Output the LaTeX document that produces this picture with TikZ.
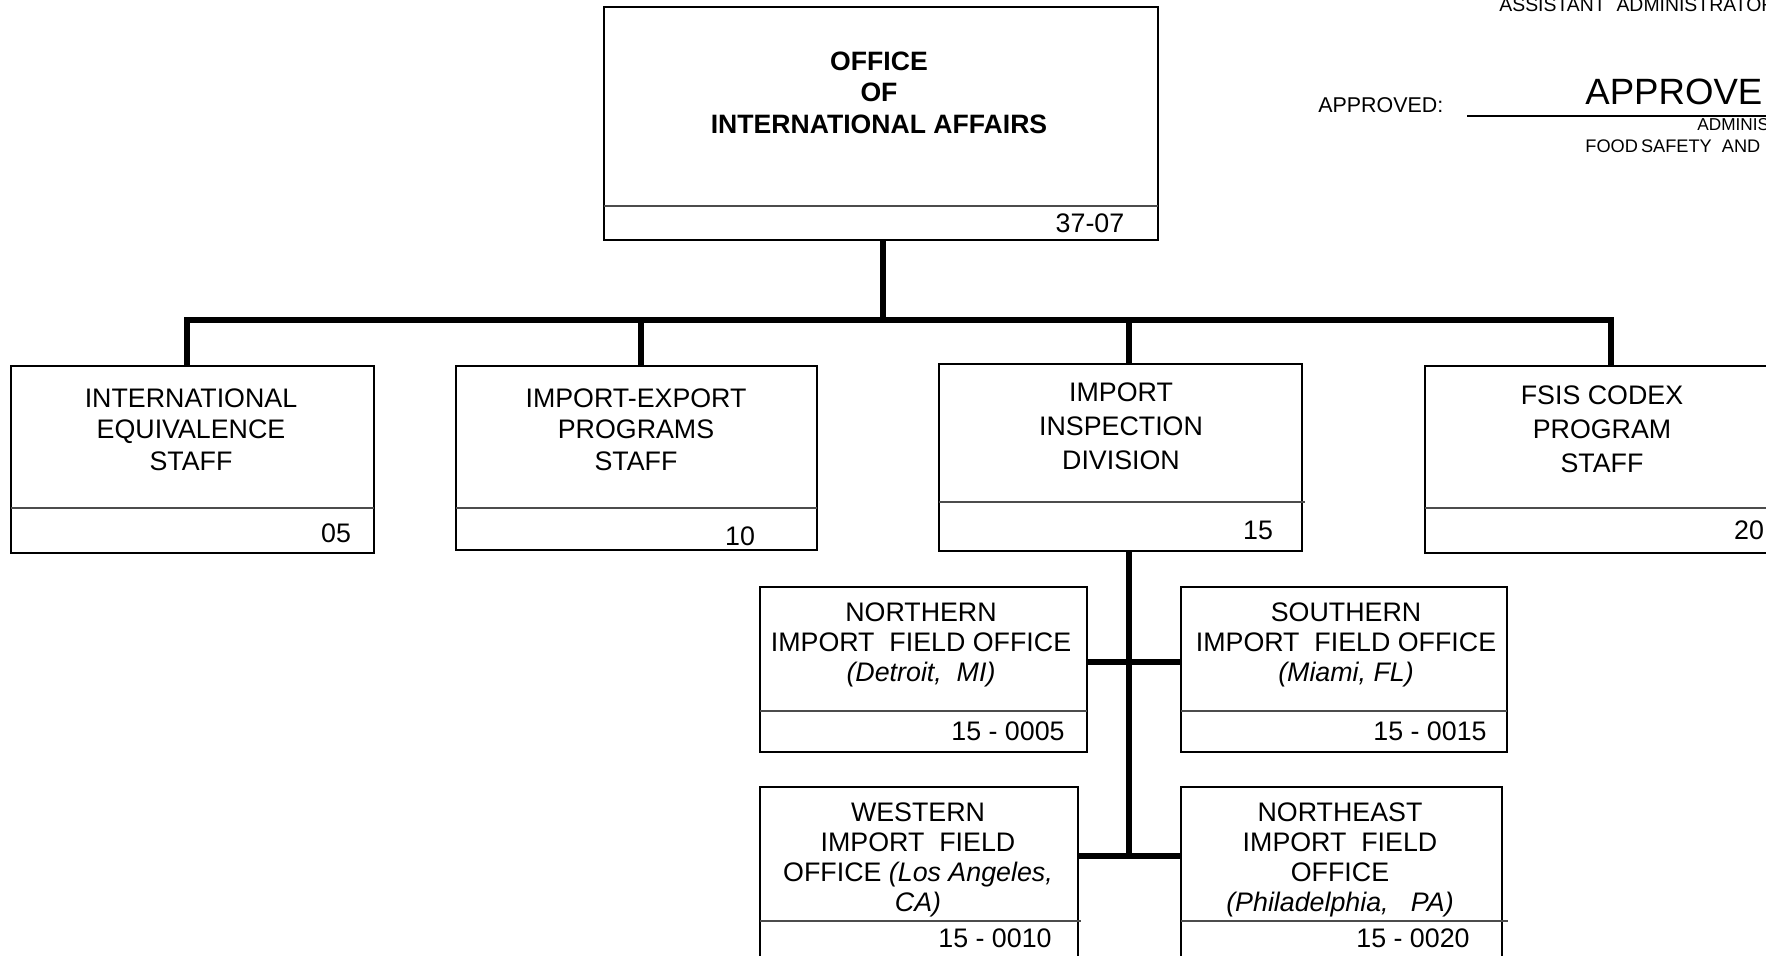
\documentclass[tikz,border=0pt]{standalone}
\usepackage{fontspec}
\setmainfont{Liberation Sans}
\begin{document}
\begin{tikzpicture}[x=0.5pt,y=-0.5pt,
  box/.style={draw, line width=0.6pt, anchor=north west, inner sep=0pt, outer sep=0pt},
  conn/.style={line width=3pt},
  divl/.style={draw=black!70, line width=0.6pt},
  lbl/.style={font=\fontsize{13.4}{15.75}\selectfont, align=center, inner sep=0pt},
  flbl/.style={font=\fontsize{13.4}{15}\selectfont, align=center, inner sep=0pt},
  num/.style={font=\fontsize{13.4}{15.75}\selectfont, inner sep=0pt},
  small/.style={font=\fontsize{9.7}{11}\selectfont, inner sep=0pt, anchor=base west}]
\useasboundingbox (0,0) rectangle (1766,956);
\clip (0,0) rectangle (1766,956);
\fill[white] (0,0) rectangle (1766,956);

% top right approval block
\node[small] (asst) at (1499,12) {ASSISTANT\ \ ADMINISTRATOR};
\node[small, font=\fontsize{10.7}{12}\selectfont] (appr) at (1318,113) {APPROVED:};
\coordinate (sigL) at (1467,116);
\coordinate (sigR) at (1766,116);
\draw[line width=0.6pt] (sigL) -- (sigR);
\node[small, font=\fontsize{18.3}{20}\selectfont] (apprbig) at (1585,104.5) {APPROVE};
\node[small, font=\fontsize{8.6}{10}\selectfont] (admin) at (1697,131) {ADMINIS};
\node[small, font=\fontsize{9.1}{10}\selectfont] (fsis) at (1585,153) {FOOD\,SAFETY\ \ AND};

% boxes
\node[box, minimum width=277pt, minimum height=116.5pt] (oia) at (604,7) {};
\node[box, minimum width=181.5pt, minimum height=93.5pt] (ies) at (11,366) {};
\node[box, minimum width=180.5pt, minimum height=92pt] (ieps) at (456,366) {};
\node[box, minimum width=181.5pt, minimum height=93.5pt] (iid) at (939,364) {};
\node[box, minimum width=182.5pt, minimum height=93.5pt] (fcps) at (1425,366) {};
\node[box, minimum width=163.5pt, minimum height=82.5pt] (nif) at (760,587) {};
\node[box, minimum width=163pt, minimum height=82.5pt] (sif) at (1181,587) {};
\node[box, minimum width=159pt, minimum height=89pt] (wif) at (760,787) {};
\node[box, minimum width=160.5pt, minimum height=89pt] (nef) at (1181,787) {};

% dividers
\draw[divl] (oia.west |- 0,206) -- (oia.east |- 0,206);
\draw[divl] (ies.west |- 0,508) -- (ies.east |- 0,508);
\draw[divl] (ieps.west |- 0,508) -- (ieps.east |- 0,508);
\draw[divl] (iid.west |- 0,502) -- ([xshift=1.5pt]iid.east |- 0,502);
\draw[divl] (fcps.west |- 0,508) -- (fcps.east |- 0,508);
\draw[divl] (nif.west |- 0,711) -- (nif.east |- 0,711);
\draw[divl] (sif.west |- 0,711) -- (sif.east |- 0,711);
\draw[divl] (wif.west |- 0,921) -- ([xshift=1.5pt]wif.east |- 0,921);
\draw[divl] (nef.west |- 0,921) -- ([xshift=3pt]nef.east |- 0,921);

% texts
\node[lbl, font=\fontsize{13.3}{15.75}\selectfont\bfseries] (toia) at (879,92.5) {OFFICE\\OF\\INTERNATIONAL AFFAIRS};
\node[num] (noia) at (1090,223) {37-07};
\node[lbl] (ties) at (191,429.5) {INTERNATIONAL\\EQUIVALENCE\\STAFF};
\node[num] (nies) at (336,533) {05};
\node[lbl] (tieps) at (636,429.5) {IMPORT-EXPORT\\PROGRAMS\\STAFF};
\node[num] (nieps) at (740,536) {10};
\node[lbl, font=\fontsize{13.4}{17}\selectfont] (tiid) at (1121,426.5) {IMPORT\\INSPECTION\\DIVISION};
\node[num] (niid) at (1258,530) {15};
\node[lbl, font=\fontsize{13.4}{16.9}\selectfont] (tfcps) at (1602,429) {FSIS CODEX\\PROGRAM\\STAFF};
\node[num] (nfcps) at (1749,530) {20};
\node[flbl] (tnif) at (921,645) {NORTHERN\\IMPORT\ \ FIELD OFFICE\\\textit{(Detroit,\ \ MI)}};
\node[num] (nnif) at (1008,731) {15 - 0005};
\node[flbl] (tsif) at (1346,645) {SOUTHERN\\IMPORT\ \ FIELD OFFICE\\\textit{(Miami, FL)}};
\node[num] (nsif) at (1430,731) {15 - 0015};
\node[flbl] (twif) at (918,859.5) {WESTERN\\IMPORT\ \ FIELD\\OFFICE \textit{(Los Angeles,}\\\textit{CA)}};
\node[num] (nwif) at (995,938) {15 - 0010};
\node[flbl] (tnef) at (1340,859.5) {NORTHEAST\\IMPORT\ \ FIELD\\OFFICE\\\textit{(Philadelphia,\ \ \ PA)}};
\node[num] (nnef) at (1413,938) {15 - 0020};

% connectors
\coordinate (b0) at (883,320);
\coordinate (b1) at (187,320);
\coordinate (b2) at (641,320);
\coordinate (b3) at (1129,320);
\coordinate (b4) at (1611,320);
\coordinate (j1) at (1129,662);
\coordinate (j2) at (1129,856);
\draw[conn] (b0 |- oia.south) -- (b0);
\draw[conn] (b1 |- ies.north) -- (b1) -- (b4) -- (b4 |- fcps.north);
\draw[conn] (b2) -- (b2 |- ieps.north);
\draw[conn] (b3) -- (b3 |- iid.north);
\draw[conn] (b3 |- iid.south) -- (j2);
\draw[conn] (nif.east |- j1) -- (sif.west |- j1);
\draw[conn] (wif.east |- j2) -- (nef.west |- j2);
\end{tikzpicture}
\end{document}
